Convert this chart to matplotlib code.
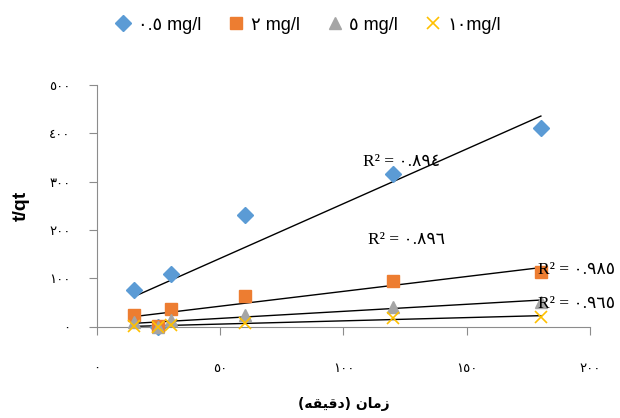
import matplotlib
matplotlib.use("Agg")
from matplotlib import pyplot as plt
import numpy as np

# time (minutes) and t/qt for each concentration
time = [15, 25, 30, 60, 120, 180]
c05 = [76, 0, 109, 231, 316, 411]
c2 = [25, 2, 37, 64, 94, 114]
c5 = [10, 0, 14, 25, 42, 52]
c10 = [1, 0, 3, 9, 18, 21]

series_labels = ["٠.٥ mg/l", "٢ mg/l", "٥ mg/l", "١٠mg/l"]
r2_labels = ["R² = ٠.٨٩٤", "R² = ٠.٨٩٦", "R² = ٠.٩٨٥", "R² = ٠.٩٦٥"]
r2_pos = [(108, 341), (110, 180), (179, 118), (179, 47)]

x_ticks = [0, 50, 100, 150, 200]
x_ticklabels = ["٠", "٥٠", "١٠٠", "١٥٠", "٢٠٠"]
y_ticks = [0, 100, 200, 300, 400, 500]
y_ticklabels = ["٠", "١٠٠", "٢٠٠", "٣٠٠", "٤٠٠", "٥٠٠"]

# Arabic x label, written in shaped presentation forms in visual order
x_label = "(ﻪﻘﻴﻗﺩ) ﻥﺎﻣﺯ"

styles = [
    dict(marker="D", color="#5B9BD5", ms=8.5, ls="none"),
    dict(marker="s", color="#ED7D31", ms=8.5, ls="none"),
    dict(marker="^", color="#A5A5A5", ms=8.5, ls="none"),
    dict(marker="x", color="#FFC000", ms=9, mew=1.2, ls="none"),
]

fig = plt.figure(figsize=(6.2, 4.18), dpi=100)
ax = fig.add_axes([0.156, 0.218, 0.796, 0.579])

xs = np.array(time, dtype=float)
handles = []
for ys, st, lab in zip([c05, c2, c5, c10], styles, series_labels):
    h, = ax.plot(xs, ys, label=lab, clip_on=False, zorder=3, **st)
    handles.append(h)

# linear trendlines
for ys in [c05, c2, c5, c10]:
    k, b = np.polyfit(xs, ys, 1)
    tx = np.array([xs.min(), xs.max()])
    ax.plot(tx, k * tx + b, color="black", lw=1, zorder=2)

for txt, (px, py) in zip(r2_labels, r2_pos):
    ax.text(px, py, txt, ha="left", va="center", fontsize=12.5,
            family=["Liberation Serif", "DejaVu Sans"], zorder=4)

ax.set_xlim(0, 200)
ax.set_ylim(0, 500)
ax.set_xticks(x_ticks)
ax.set_xticklabels(x_ticklabels)
ax.set_yticks(y_ticks)
ax.set_yticklabels(y_ticklabels)

for s in ["top", "right"]:
    ax.spines[s].set_visible(False)
for s in ["left", "bottom"]:
    ax.spines[s].set_color("#8c8c8c")
ax.tick_params(axis="both", colors="#8c8c8c", labelcolor="black",
               direction="out", length=6, labelsize=9.5)
ax.tick_params(axis="x", pad=19)
ax.tick_params(axis="y", pad=13)

ax.set_xlabel(x_label, fontsize=10, fontweight="bold", family="DejaVu Sans", labelpad=16)
ax.set_ylabel("t/qt", fontsize=14, fontweight="bold", family="Liberation Sans", labelpad=14)

fig.legend(handles=handles, loc="center", bbox_to_anchor=(0.495, 0.94), ncol=4,
           frameon=False, handletextpad=0.2, columnspacing=1.35, handlelength=1.2,
           prop={"family": ["Liberation Sans", "DejaVu Sans"], "size": 13})

fig.savefig("out.png", dpi=100)
